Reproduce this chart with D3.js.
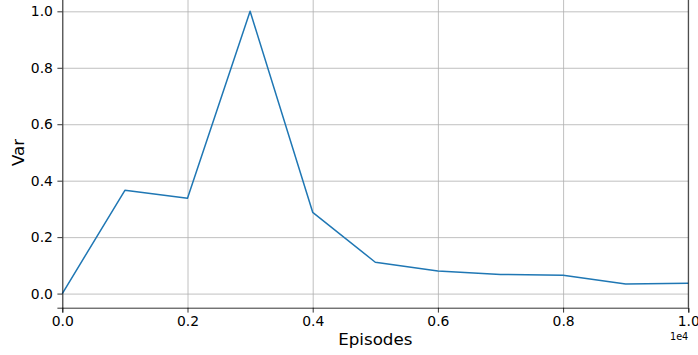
<!DOCTYPE html>
<html>
<head>
<meta charset="utf-8">
<script src="https://cdn.jsdelivr.net/npm/d3@7"></script>
<style>
  body { margin: 0; background: #fff; }
  svg { display: block; font-family: 'DejaVu Sans', sans-serif; }
  .grid line { stroke: #b0b0b0; stroke-width: 0.8; }
  .grid .domain { display: none; }
  .axis .domain, .axis line { stroke: #000; stroke-width: 0.8; }
</style>
</head>
<body>
<svg></svg>
<script>
// episodes (raw) and variance per checkpoint
let episodes = [0, 1000, 2000, 3000, 4000, 5000, 6000, 7000, 8000, 9000, 10000];
let variance = [0.0, 0.366, 0.338, 1.0, 0.288, 0.111, 0.080, 0.068, 0.065, 0.034, 0.037];

let xTicks = [0, 2000, 4000, 6000, 8000, 10000];
let yTicks = [0, 0.2, 0.4, 0.6, 0.8, 1.0];

let W = 698, H = 355;
let margin = { top: -2.8, right: 9.7, bottom: 47.3, left: 62.3 };
let width = W - margin.left - margin.right;
let height = H - margin.top - margin.bottom;

let svg = d3.select('svg')
    .attr('width', W)
    .attr('height', H)
    .style('overflow', 'hidden');

let g = svg.append('g')
    .attr('transform', 'translate(' + margin.left + ',' + margin.top + ')');

let xScale = d3.scaleLinear().domain([0, 10000]).range([0, width]);
let yScale = d3.scaleLinear().domain([-0.05, 1.05]).range([height, 0]);

// gridlines
g.append('g')
    .attr('class', 'grid')
    .attr('transform', 'translate(0,' + height + ')')
    .call(d3.axisBottom(xScale).tickValues(xTicks).tickSize(-height).tickFormat(''));
g.append('g')
    .attr('class', 'grid')
    .call(d3.axisLeft(yScale).tickValues(yTicks).tickSize(-width).tickFormat(''));

// the line
let line = d3.line()
    .x((d, i) => xScale(episodes[i]))
    .y(d => yScale(d));

g.append('path')
    .datum(variance)
    .attr('fill', 'none')
    .attr('stroke', '#1f77b4')
    .attr('stroke-width', 1.5)
    .attr('stroke-linejoin', 'round')
    .attr('d', line);

// axes
let xAxisG = g.append('g')
    .attr('class', 'axis')
    .attr('transform', 'translate(0,' + height + ')')
    .call(d3.axisBottom(xScale).tickValues(xTicks).tickSize(4.9).tickPadding(4)
        .tickFormat(d => (d / 10000).toFixed(1)));

let yAxisG = g.append('g')
    .attr('class', 'axis')
    .call(d3.axisLeft(yScale).tickValues(yTicks).tickSize(4.9).tickPadding(4.5)
        .tickFormat(d3.format('.1f')));

[xAxisG, yAxisG].forEach(a => a
    .attr('font-family', null)
    .attr('font-size', null)
    .selectAll('text')
    .style('font-size', '13.9px')
    .style('font-family', "'DejaVu Sans', sans-serif")
    .attr('fill', '#000'));

// right spine
g.append('line')
    .attr('x1', width).attr('x2', width)
    .attr('y1', 0).attr('y2', height)
    .attr('stroke', '#000').attr('stroke-width', 0.8);

// labels
svg.append('text')
    .attr('x', margin.left + width / 2)
    .attr('y', 345)
    .attr('text-anchor', 'middle')
    .style('font-size', '16.7px')
    .text('Episodes');

svg.append('text')
    .attr('transform', 'translate(24,' + (margin.top + height / 2) + ') rotate(-90)')
    .attr('text-anchor', 'middle')
    .style('font-size', '16.7px')
    .text('Var');

svg.append('text')
    .attr('x', margin.left + width)
    .attr('y', 339.5)
    .attr('text-anchor', 'end')
    .style('font-size', '9.7px')
    .text('1e4');
</script>
</body>
</html>
